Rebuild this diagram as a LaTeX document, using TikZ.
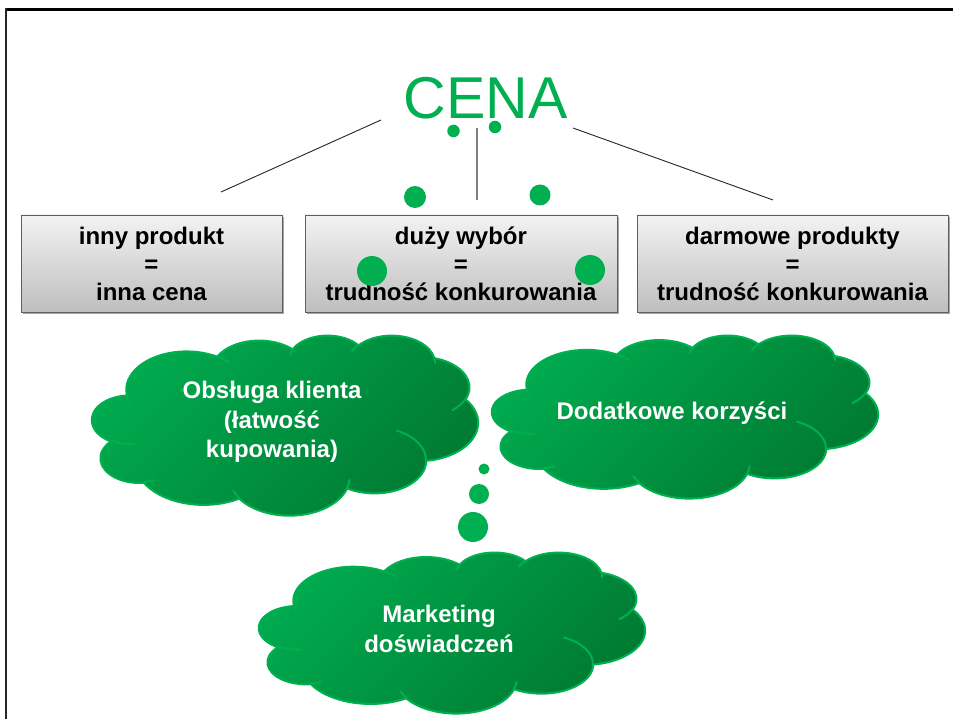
\documentclass[tikz,border=0pt]{standalone}
\usepackage{fontspec}
\setmainfont{Liberation Sans}
\usetikzlibrary{shadows}
\definecolor{cgreen}{RGB}{0,176,80}
\definecolor{clight}{RGB}{0,170,78}
\definecolor{cdark}{RGB}{0,122,50}
\definecolor{boxtop}{RGB}{243,243,243}
\definecolor{boxbot}{RGB}{190,190,190}
\definecolor{boxline}{RGB}{95,95,95}
\newcommand\cldarc[4]{%
  \pgfmathsetmacro\cldts{atan2((#1)*sin(#3),(#2)*cos(#3))}%
  \pgfmathsetmacro\cldte{atan2((#1)*sin((#3)+(#4)),(#2)*cos((#3)+(#4)))}%
  \pgfmathsetmacro\cldte{\cldte+360*(\cldte<\cldts)}%
  \pgfpatharcaxes{\cldts}{\cldte}{\pgfpointxy{#1}{0}}{\pgfpointxy{0}{#2}}%
}
\newcommand\cloudshape{%
  \pgfpathmoveto{\pgfpointxy{39}{143.7}}%
  \cldarc{67.53}{91.90}{-190.4875}{123.7805}%
  \cldarc{53.33}{72.67}{-144.1024}{89.9452}%
  \cldarc{43.65}{59.45}{-145.8079}{99.7230}%
  \cldarc{48.57}{65.95}{-130.9861}{117.2417}%
  \cldarc{53.33}{72.73}{-78.7089}{109.0269}%
  \cldarc{67.75}{92.20}{-46.2673}{130.2690}%
  \cldarc{57.85}{78.67}{0.6250}{114.0333}%
  \cldarc{67.52}{92.15}{22.4516}{115.1726}%
  \cldarc{77.20}{105.43}{66.2426}{75.7110}%
  \cldarc{43.60}{59.18}{-274.9421}{146.7356}%
  \cldarc{43.45}{59.45}{-246.8285}{152.5189}%
  \pgfpathclose}
\newcommand\cloudlines{%
  \pgfpathmoveto{\pgfpointxy{46.93}{261.77}}\cldarc{43.45}{59.45}{86.742}{26.4295}%
  \pgfpathmoveto{\pgfpointxy{69.28}{348.99}}\cldarc{43.60}{59.18}{73.6105}{11.4475}%
  \pgfpathmoveto{\pgfpointxy{164.78}{390.90}}\cldarc{67.52}{92.15}{137.6242}{14.0811}%
  \pgfpathmoveto{\pgfpointxy{288.27}{347.51}}\cldarc{67.52}{92.15}{6.4533}{15.9984}%
  \pgfpathmoveto{\pgfpointxy{341.29}{229.54}}\cldarc{57.85}{78.67}{-70.2924}{70.9174}%
  \pgfpathmoveto{\pgfpointxy{417.98}{153.54}}\cldarc{53.33}{72.73}{30.3180}{27.7515}%
  \pgfpathmoveto{\pgfpointxy{383.24}{54.26}}\cldarc{48.57}{65.95}{-13.7443}{14.8589}%
  \pgfpathmoveto{\pgfpointxy{290.78}{39.52}}\cldarc{48.57}{65.95}{-149.1815}{18.1954}%
  \pgfpathmoveto{\pgfpointxy{221.41}{47.20}}\cldarc{43.65}{59.45}{-163.4943}{17.6864}%
  \pgfpathmoveto{\pgfpointxy{140.00}{51.92}}\cldarc{67.53}{91.90}{-66.7070}{12.3194}%
  \pgfpathmoveto{\pgfpointxy{41.27}{157.89}}\cldarc{67.53}{91.90}{157.6544}{11.8582}%
}
\tikzset{
  boxnode/.style={draw=boxline, line width=0.9pt, top color=boxtop, bottom color=boxbot,
    minimum height=97pt, inner sep=0pt, align=center,
    font=\fontsize{24}{28}\selectfont\bfseries, text=black,
    drop shadow={shadow xshift=1.5pt, shadow yshift=-2pt, opacity=0.35, fill=black}},
  cloudfill/.style={left color=clight, right color=cdark, shading angle=45,
    draw=cgreen, line width=2pt, line join=round},
  cloudline/.style={draw=cgreen, line width=2pt, line cap=round},
  cloudtext/.style={align=center, text=white, font=\fontsize{24}{29.5}\selectfont\bfseries},
  dot/.style={circle, fill=cgreen, inner sep=0pt},
  thin line/.style={draw=black!85, line width=0.9pt},
}
\begin{document}
\begin{tikzpicture}[x=1pt, y=-1pt]
\useasboundingbox (0,0) rectangle (953,719);
\fill[white] (0,0) rectangle (953,719);
% slide frame
\draw[line width=3pt, black] (5,9.5) -- (953,9.5);
\draw[line width=2.5pt, black!85] (6.2,8) -- (6.2,719);

% title
\node (cena) [anchor=base, inner sep=0pt, text=cgreen, font=\fontsize{59}{59}\selectfont] at (485.5,119) {CENA};

% lines
\coordinate (l1a) at (381,120); \coordinate (l1b) at (221,192);
\coordinate (l2a) at (477,128); \coordinate (l2b) at (477,200);
\coordinate (l3a) at (573,128); \coordinate (l3b) at (773,200);
\draw[thin line] (l1a) -- (l1b);
\draw[draw=black!50, line width=1.4pt] (l2a) -- (l2b);
\draw[thin line] (l3a) -- (l3b);

% boxes
\node (b1) [boxnode, minimum width=261pt] at (151.5,263.5) {inny produkt\\=\\inna cena};
\node (b2) [boxnode, minimum width=312pt] at (461,263.5) {duży wybór\\=\\trudność konkurowania};
\node (b3) [boxnode, minimum width=311pt] at (792.5,263.5) {darmowe produkty\\=\\trudność konkurowania};

% dots around title
\node (d1) [dot, minimum size=12.5pt] at (453.5,131) {};
\node (d2) [dot, minimum size=12.5pt] at (495,127) {};
\node (d3) [dot, minimum size=22pt] at (415,197) {};
\node (d4) [dot, minimum size=21pt] at (540,195) {};
\node (d5) [dot, minimum size=30pt] at (372,271) {};
\node (d6) [dot, minimum size=30pt] at (590,270) {};

% clouds
\begin{scope}[shift={(92,335)}, x=0.8935pt, y=-0.4167pt]
  \path[cloudfill] \pgfextra{\cloudshape};
  \path[cloudline] \pgfextra{\cloudlines};
\end{scope}
\begin{scope}[shift={(492,335)}, x=0.8935pt, y=-0.3773pt]
  \path[cloudfill] \pgfextra{\cloudshape};
  \path[cloudline] \pgfextra{\cloudlines};
\end{scope}
\begin{scope}[shift={(259,552)}, x=0.8935pt, y=-0.3727pt]
  \path[cloudfill] \pgfextra{\cloudshape};
  \path[cloudline] \pgfextra{\cloudlines};
\end{scope}

\node (c1) [cloudtext] at (272,422) {Obsługa klienta\\(łatwość\\kupowania)};
\node (c2) [cloudtext] at (672,413) {Dodatkowe korzyści};
\node (c3) [cloudtext] at (439,629) {Marketing\\doświadczeń};

% thought dots
\node (t1) [dot, minimum size=11pt] at (484,469) {};
\node (t2) [dot, minimum size=20pt] at (479,494) {};
\node (t3) [dot, minimum size=30pt] at (473,527) {};
\end{tikzpicture}
\end{document}
